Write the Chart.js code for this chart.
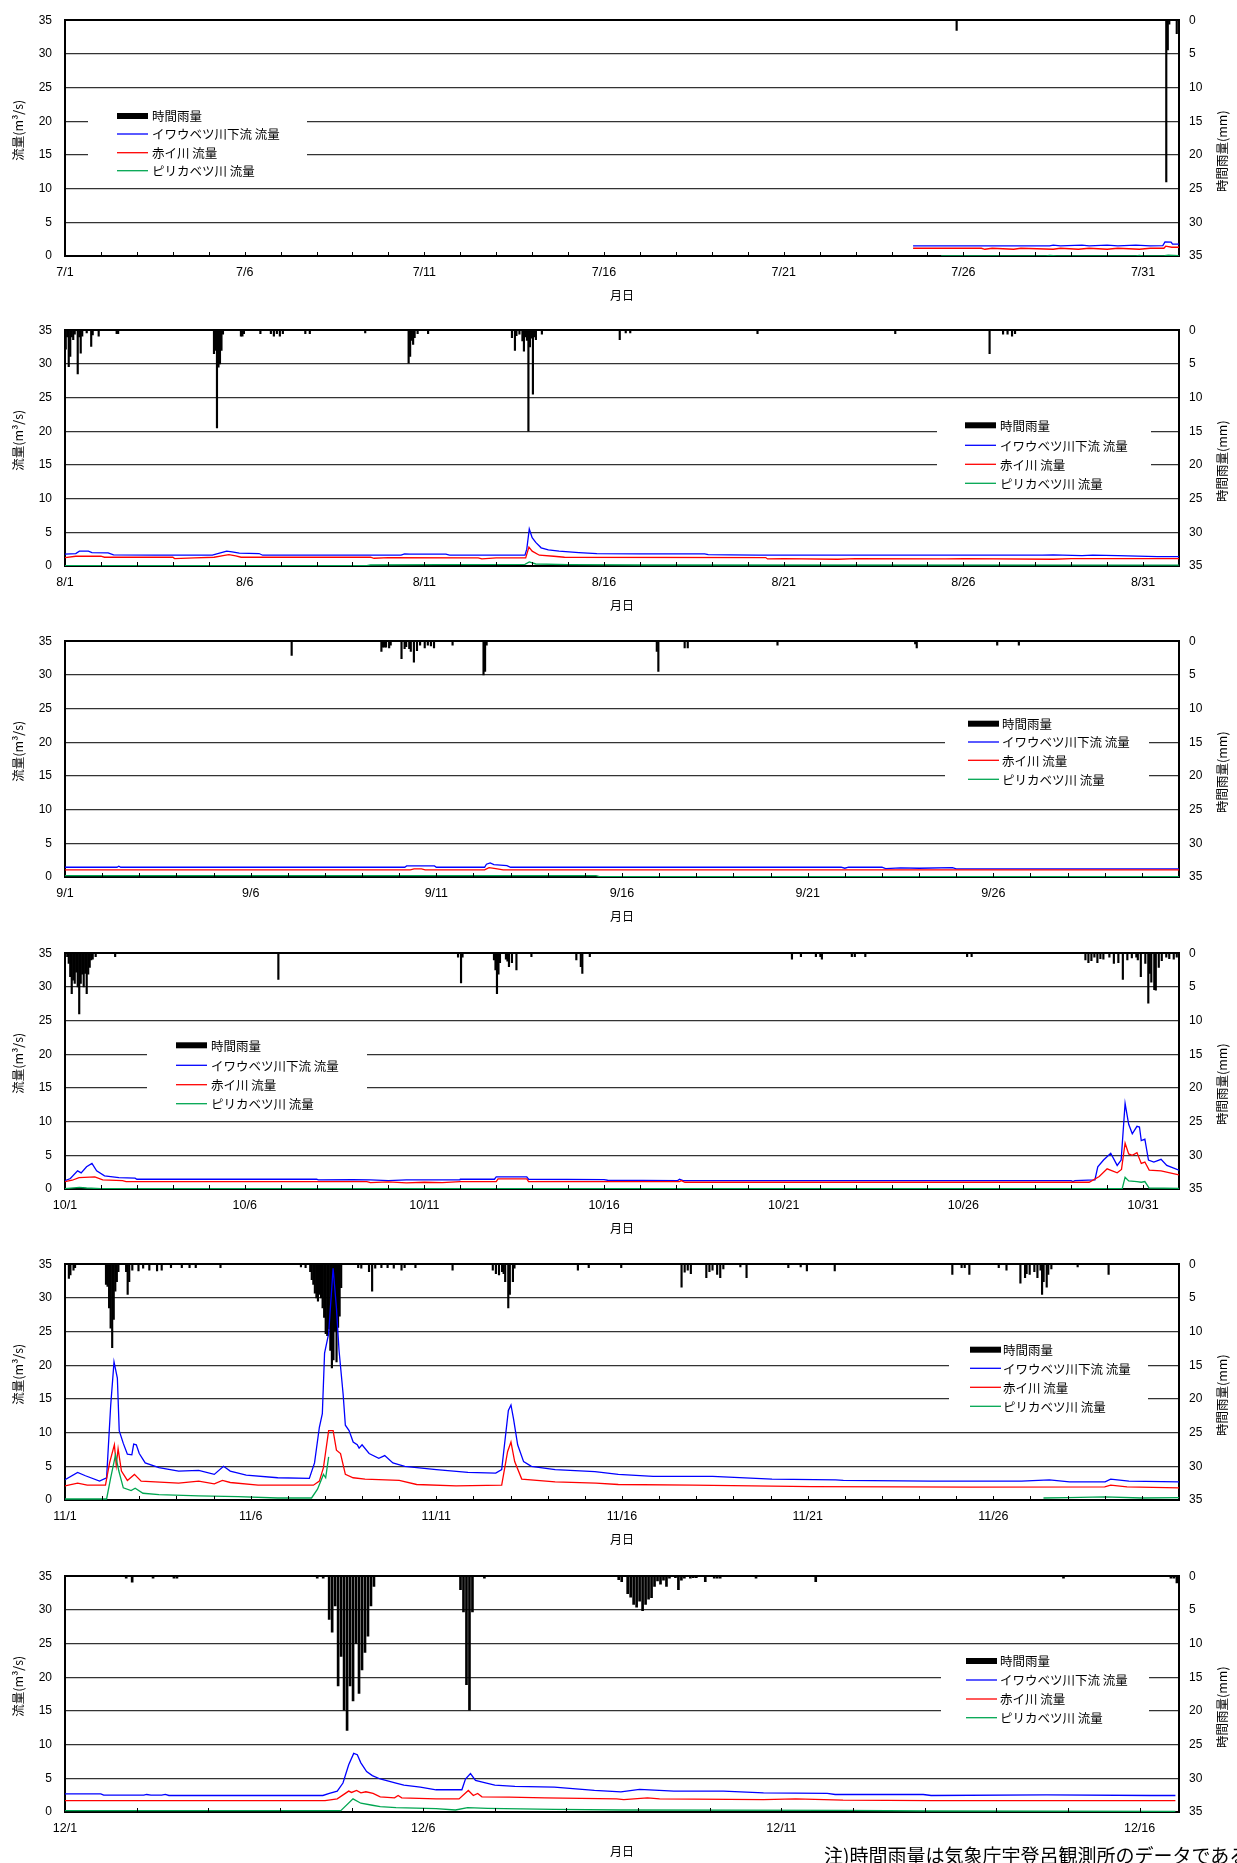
<!DOCTYPE html>
<html><head><meta charset="utf-8">
<script src="https://cdn.jsdelivr.net/npm/chart.js@4.4.1/dist/chart.umd.min.js"></script>
<style>
html,body{margin:0;padding:0;background:#fff;}
body{width:1237px;height:1863px;position:relative;overflow:hidden;}
.panel{position:absolute;left:0;width:1237px;height:311px;}
#note{position:absolute;left:824px;top:1843px;font-family:"Noto Sans CJK JP";font-size:19px;line-height:24px;white-space:nowrap;color:#000;}
</style></head><body>
<div class="panel" style="top:0px"><canvas id="c0" width="1237" height="311"></canvas></div>
<div class="panel" style="top:310px"><canvas id="c1" width="1237" height="311"></canvas></div>
<div class="panel" style="top:621px"><canvas id="c2" width="1237" height="311"></canvas></div>
<div class="panel" style="top:933px"><canvas id="c3" width="1237" height="311"></canvas></div>
<div class="panel" style="top:1244px"><canvas id="c4" width="1237" height="311"></canvas></div>
<div class="panel" style="top:1556px"><canvas id="c5" width="1237" height="311"></canvas></div>
<div id="note">注)時間雨量は気象庁宇登呂観測所のデータである</div>
<script>
// ---------- series names ----------
const seriesNames = ['時間雨量', 'イワウベツ川下流 流量', '赤イ川 流量', 'ピリカベツ川 流量'];

// ---------- tick labels (every 5 days) ----------
const julTicks = ['7/1','7/6','7/11','7/16','7/21','7/26','7/31'];
const augTicks = ['8/1','8/6','8/11','8/16','8/21','8/26','8/31'];
const sepTicks = ['9/1','9/6','9/11','9/16','9/21','9/26'];
const octTicks = ['10/1','10/6','10/11','10/16','10/21','10/26','10/31'];
const novTicks = ['11/1','11/6','11/11','11/16','11/21','11/26'];
const decTicks = ['12/1','12/6','12/11','12/16'];
const monthDays = [31, 31, 30, 31, 30, 15.55];

// ---------- hourly rainfall [hour from month start, mm] ----------
const julRain = [[595,1.5],[735,24.0],[736,4.4],[737,0.6],[742,2.0]];
const augRain = [[0,2.8],[1,1.0],[2,5.4],[3,3.9],[4,1.0],[5,1.4],[6,0.6],[8,6.5],[9,1.0],[10,3.4],[11,0.9],[14,0.4],[17,2.4],[18,0.7],[22,0.9],[34,0.5],[35,0.5],[99,3.5],[100,3.0],[101,14.5],[102,5.5],[103,5.0],[104,3.0],[105,0.6],[117,0.9],[118,0.9],[119,0.5],[130,0.5],[137,0.5],[139,0.9],[141,0.5],[143,0.9],[145,0.5],[160,0.5],[163,0.5],[200,0.4],[229,4.9],[230,3.9],[231,1.5],[232,2.1],[233,1.1],[235,0.5],[242,0.5],[298,1.1],[300,3.0],[301,0.8],[303,0.6],[305,1.6],[306,3.1],[307,1.0],[308,1.5],[309,15.0],[310,2.5],[311,1.2],[312,9.5],[313,1.0],[314,1.4],[318,0.6],[370,1.4],[374,0.4],[377,0.4],[462,0.5],[554,0.5],[617,3.5],[626,0.6],[629,0.6],[632,0.9],[634,0.5]];
const sepRain = [[146,2.1],[204,1.5],[205,0.9],[206,0.9],[207,0.9],[209,1.0],[210,0.6],[217,2.6],[219,1.1],[220,0.8],[222,1.1],[223,1.5],[225,3.1],[227,1.4],[229,0.6],[232,1.0],[234,0.6],[236,0.7],[238,1.0],[250,0.6],[270,5.0],[271,4.5],[272,0.6],[382,1.5],[383,4.5],[400,1.0],[402,1.0],[460,0.6],[549,0.4],[550,1.0],[602,0.6],[616,0.6]];
const octRain = [[1,0.5],[2,1.5],[3,3.5],[4,6.0],[5,4.0],[6,4.5],[7,2.8],[8,5.0],[9,9.0],[10,4.5],[11,3.1],[12,5.0],[13,3.0],[14,6.0],[15,3.1],[16,2.1],[17,1.0],[18,0.9],[20,0.5],[33,0.5],[142,3.9],[262,0.6],[264,4.4],[265,0.6],[286,1.0],[287,2.5],[288,6.0],[289,3.1],[290,1.4],[294,0.9],[295,1.2],[296,2.0],[298,1.4],[301,2.5],[311,0.5],[341,1.0],[344,2.0],[345,3.0],[350,0.5],[485,0.9],[491,0.5],[501,0.5],[504,0.5],[505,0.9],[525,0.5],[527,0.5],[534,0.5],[602,0.5],[605,0.5],[681,1.0],[683,1.4],[685,1.1],[687,0.6],[689,1.4],[691,0.8],[693,0.9],[697,0.6],[700,1.5],[703,1.4],[706,3.9],[709,1.0],[712,0.7],[715,0.6],[716,1.0],[718,3.5],[721,1.5],[723,7.4],[724,3.0],[725,4.3],[727,5.4],[728,5.5],[730,2.1],[732,1.1],[735,0.6],[737,0.8],[740,0.9],[742,0.6]];
const novRain = [[2,2.1],[3,1.6],[5,0.9],[6,0.5],[26,3.0],[27,3.3],[28,6.5],[29,9.5],[30,12.4],[31,8.2],[32,4.0],[33,2.6],[34,1.1],[39,1.1],[40,4.5],[41,2.6],[43,0.9],[47,1.0],[50,0.6],[54,0.9],[59,1.0],[62,0.9],[68,0.5],[75,0.5],[80,0.5],[84,0.5],[100,0.5],[152,0.4],[155,0.5],[158,1.1],[159,2.3],[160,3.0],[161,4.3],[162,5.0],[163,5.5],[164,4.5],[165,5.0],[166,6.5],[167,7.9],[168,10.3],[169,10.6],[170,9.6],[171,12.8],[172,15.4],[173,14.2],[174,9.9],[175,14.5],[176,9.4],[177,7.7],[178,3.5],[189,0.5],[191,0.6],[196,1.1],[198,4.0],[200,0.6],[204,0.5],[208,0.5],[212,0.6],[217,0.9],[219,0.5],[226,0.5],[250,0.9],[276,0.9],[278,1.4],[280,1.6],[282,1.1],[283,1.4],[284,2.6],[286,6.5],[287,4.5],[289,2.6],[290,0.6],[331,0.9],[338,0.5],[359,0.5],[398,3.4],[400,1.2],[402,0.9],[404,1.4],[414,2.0],[416,1.1],[418,0.9],[421,1.5],[423,2.0],[425,0.7],[436,0.4],[440,2.0],[467,0.5],[475,0.4],[479,1.0],[497,1.0],[573,1.5],[579,0.5],[581,0.5],[584,1.5],[603,0.5],[608,0.9],[617,2.8],[620,2.0],[621,1.4],[623,1.5],[626,1.1],[628,2.0],[630,0.9],[631,4.5],[632,2.6],[634,3.4],[635,1.5],[637,0.7],[654,0.4],[674,1.5]];
const decRain = [[20,0.3],[22,0.9],[29,0.3],[36,0.3],[37,0.3],[84,0.3],[86,0.3],[88,6.4],[89,8.3],[90,4.4],[91,16.3],[92,11.9],[93,19.9],[94,22.9],[95,16.3],[96,18.5],[97,10.0],[98,17.4],[99,13.9],[100,11.3],[101,8.9],[102,4.4],[103,1.5],[132,2.0],[133,5.3],[134,16.1],[135,19.9],[136,5.3],[140,0.3],[185,0.5],[186,0.8],[188,2.6],[189,3.1],[190,4.2],[191,4.6],[192,3.7],[193,5.1],[194,4.2],[195,3.4],[196,3.2],[197,1.5],[198,0.7],[199,1.2],[200,0.6],[201,1.5],[202,0.3],[204,0.2],[205,2.0],[206,0.6],[207,0.3],[209,0.3],[210,0.2],[211,0.2],[214,0.8],[217,0.3],[218,0.3],[219,0.3],[231,0.3],[251,0.8],[334,0.3],[370,0.3],[371,0.3],[372,1.0]];

// ---------- flows [day from month start, m3/s] ----------
const julIwa = [[23.6,1.5],[25.0,1.5],[26.0,1.5],[27.4,1.5],[27.5,1.6],[27.7,1.5],[28.3,1.6],[28.5,1.5],[29.0,1.6],[29.3,1.5],[29.8,1.6],[30.2,1.5],[30.55,1.55],[30.61,2.1],[30.78,2.05],[30.82,1.75],[31,1.75]];
const julAka = [[23.6,1.15],[25.5,1.15],[25.6,1.0],[25.8,1.15],[26.4,1.0],[26.6,1.15],[27.5,1.0],[27.7,1.15],[28.2,1.0],[28.5,1.15],[29.0,1.0],[29.3,1.15],[29.9,1.0],[30.2,1.15],[30.58,1.15],[30.63,1.45],[30.8,1.3],[31,1.3]];
const julPiri = [[24.38,0.03],[27.3,0.03],[27.4,0.1],[27.6,0.03],[29.8,0.03],[29.9,0.1],[30.0,0.03],[30.6,0.05],[30.7,0.12],[31,0.05]];

const augIwa = [[0,1.75],[0.3,1.85],[0.4,2.2],[0.65,2.2],[0.75,2.0],[1.2,1.95],[1.35,1.65],[2.5,1.6],[4.1,1.6],[4.3,1.9],[4.5,2.2],[4.65,2.1],[4.85,1.9],[5.4,1.85],[5.5,1.6],[9.35,1.6],[9.45,1.8],[9.6,1.75],[10.6,1.75],[10.7,1.6],[12.8,1.6],[12.85,2.5],[12.92,5.5],[13.0,4.2],[13.1,3.5],[13.25,2.7],[13.45,2.4],[13.75,2.2],[14.3,2.0],[14.8,1.85],[16,1.8],[17.8,1.8],[17.9,1.7],[18.5,1.65],[19.3,1.6],[27.2,1.6],[27.5,1.65],[28.3,1.55],[28.6,1.6],[29.3,1.55],[30.4,1.4],[31,1.4]];
const augAka = [[0,1.25],[0.3,1.45],[1.0,1.45],[1.1,1.3],[3.0,1.3],[3.05,1.1],[3.6,1.2],[4.15,1.3],[4.4,1.55],[4.56,1.7],[4.75,1.5],[4.9,1.3],[8.5,1.3],[8.6,1.15],[9.0,1.25],[11.5,1.2],[11.6,1.05],[12.0,1.2],[12.82,1.2],[12.91,2.8],[13.0,2.2],[13.2,1.6],[13.6,1.45],[13.9,1.3],[19.5,1.25],[19.55,1.05],[20.0,1.1],[21.5,1.0],[22.0,1.1],[24.5,1.05],[25.0,1.1],[27.5,1.0],[28.0,1.1],[31,1.1]];
const augPiri = [[0,0.05],[8.4,0.05],[8.5,0.15],[10.5,0.2],[12.8,0.25],[12.92,0.6],[13.1,0.3],[14.0,0.2],[16.0,0.15],[31,0.12]];

const sepIwa = [[0,1.45],[1.4,1.45],[1.45,1.6],[1.5,1.45],[9.15,1.45],[9.2,1.65],[9.95,1.65],[10.0,1.45],[11.3,1.45],[11.35,1.9],[11.45,2.1],[11.55,1.85],[11.9,1.7],[12.0,1.45],[20.9,1.45],[21.0,1.3],[21.1,1.45],[22.0,1.45],[22.1,1.25],[22.5,1.35],[23.0,1.3],[23.9,1.4],[24.0,1.2],[30,1.2]];
const sepAka = [[0,1.05],[9.3,1.05],[9.4,1.2],[9.6,1.2],[9.7,1.05],[11.3,1.05],[11.42,1.4],[11.6,1.25],[11.8,1.05],[30,1.05]];
const sepPiri = [[0,0.2],[14.3,0.2],[14.4,0.05],[30,0.05]];

const octIwa = [[0,1.25],[0.15,1.55],[0.35,2.7],[0.45,2.4],[0.6,3.3],[0.75,3.8],[0.88,2.7],[1.1,1.95],[1.5,1.7],[1.95,1.6],[2.0,1.45],[7.0,1.45],[7.05,1.35],[8.0,1.4],[8.5,1.35],[9.0,1.25],[9.5,1.35],[10.99,1.35],[11.0,1.45],[11.95,1.45],[12.0,1.8],[12.85,1.8],[12.9,1.45],[15.0,1.4],[15.1,1.3],[17.05,1.25],[17.1,1.45],[17.2,1.25],[28.0,1.25],[28.05,1.1],[28.1,1.25],[28.66,1.35],[28.74,3.3],[28.9,4.3],[29.1,5.3],[29.28,3.5],[29.39,4.3],[29.5,12.7],[29.6,9.6],[29.7,8.2],[29.83,9.3],[29.9,9.2],[29.95,7.2],[30.05,7.4],[30.15,4.3],[30.3,4.0],[30.5,4.4],[30.66,3.5],[31,2.8]];
const octAka = [[0,1.1],[0.2,1.3],[0.39,1.7],[0.83,1.8],[1.05,1.35],[1.6,1.25],[1.7,1.1],[8.4,1.1],[8.5,0.95],[9.0,1.05],[9.5,0.9],[10.0,1.0],[10.5,0.95],[11.0,1.1],[12.0,1.1],[12.05,1.5],[12.85,1.5],[12.9,1.1],[17.1,1.1],[17.15,1.25],[17.25,1.0],[28.5,1.0],[28.78,1.85],[29.0,3.0],[29.28,2.4],[29.4,2.9],[29.5,6.8],[29.6,5.2],[29.7,5.0],[29.83,5.4],[29.95,3.8],[30.05,4.0],[30.17,2.8],[30.5,2.7],[31,2.1]];
const octPiri = [[0,0.05],[0.4,0.25],[0.6,0.15],[1.0,0.05],[29.42,0.05],[29.5,1.75],[29.6,1.2],[29.83,1.1],[29.95,1.0],[30.05,1.1],[30.17,0.15],[31,0.1]];

const novIwa = [[0,3.0],[0.34,4.1],[0.55,3.6],[0.93,2.8],[1.12,3.3],[1.23,14],[1.32,20.5],[1.41,18.1],[1.46,10.3],[1.57,8.4],[1.68,6.8],[1.8,6.7],[1.85,8.3],[1.92,8.2],[2.0,6.9],[2.16,5.5],[2.53,4.8],[3.06,4.3],[3.6,4.4],[4.02,3.8],[4.27,5.0],[4.45,4.3],[4.88,3.7],[5.73,3.3],[6.58,3.2],[6.72,5.5],[6.85,10.8],[6.93,12.8],[6.99,21.8],[7.1,24.7],[7.22,34.4],[7.31,28.5],[7.38,22.2],[7.49,15.7],[7.55,11.1],[7.65,10.3],[7.76,8.6],[7.87,8.2],[7.92,7.7],[8.0,8.2],[8.19,6.9],[8.45,6.2],[8.61,6.6],[8.83,5.5],[9.15,5.0],[10.0,4.5],[10.85,4.1],[11.6,4.0],[11.76,4.5],[11.94,13.3],[12.01,14.1],[12.08,12.0],[12.19,8.2],[12.35,5.7],[12.56,5.0],[13.2,4.5],[14.27,4.2],[14.9,3.8],[15.84,3.5],[17.44,3.5],[19.04,3.1],[20.75,3.0],[20.96,2.9],[23.31,2.8],[25.76,2.8],[26.51,3.0],[27.05,2.7],[28.01,2.7],[28.16,3.1],[28.65,2.8],[30,2.7]];
const novAka = [[0,2.1],[0.34,2.5],[0.6,2.2],[1.09,2.2],[1.2,5.5],[1.33,8.2],[1.38,5.2],[1.43,7.6],[1.52,4.3],[1.68,2.9],[1.87,3.8],[2.05,2.8],[3.06,2.5],[3.6,2.8],[4.02,2.4],[4.24,2.9],[4.45,2.6],[5.2,2.2],[6.69,2.2],[6.85,2.8],[6.96,4.8],[7.1,10.3],[7.22,10.3],[7.31,7.4],[7.42,6.9],[7.55,3.8],[7.76,3.3],[8.08,3.1],[9.0,2.9],[9.47,2.3],[10.53,2.1],[11.76,2.2],[11.92,7.2],[12.01,8.6],[12.11,5.7],[12.3,3.1],[13.2,2.7],[14.3,2.5],[14.9,2.3],[16.9,2.2],[20.1,2.0],[22.45,1.95],[24.38,1.9],[28.0,1.95],[28.16,2.2],[28.6,1.95],[30,1.8]];
const novPiri = [[0,0.15],[1.12,0.15],[1.23,3.3],[1.36,6.7],[1.45,4.3],[1.57,1.8],[1.78,1.4],[1.89,1.75],[2.1,1.0],[2.53,0.8],[3.6,0.6],[4.66,0.5],[5.73,0.3],[6.64,0.3],[6.8,1.6],[6.96,3.8],[7.02,3.3],[7.1,6.4],[7.15,null],[26.35,0.3],[27.0,0.35],[28.0,0.45],[29.0,0.3],[30,0.35]];

const decIwa = [[0,2.7],[0.5,2.7],[0.54,2.5],[1.1,2.5],[1.14,2.6],[1.2,2.5],[1.35,2.5],[1.4,2.6],[1.45,2.45],[3.6,2.45],[3.69,2.75],[3.8,3.1],[3.88,4.3],[3.96,7.0],[4.03,8.7],[4.08,8.5],[4.13,7.3],[4.21,6.0],[4.29,5.4],[4.4,4.9],[4.62,4.3],[4.73,4.0],[4.96,3.7],[5.18,3.3],[5.54,3.3],[5.59,4.9],[5.66,5.7],[5.73,4.7],[5.84,4.4],[6.0,4.0],[6.28,3.8],[6.83,3.7],[7.39,3.2],[7.76,3.0],[8.02,3.35],[8.5,3.1],[9.19,3.1],[9.75,2.85],[10.64,2.75],[10.75,2.6],[11.98,2.6],[12.09,2.45],[13.7,2.55],[15.16,2.45],[15.5,2.45]];
const decAka = [[0,1.7],[3.63,1.7],[3.8,1.95],[3.96,3.1],[4.0,2.9],[4.07,3.2],[4.13,2.85],[4.2,3.0],[4.3,2.75],[4.4,2.25],[4.6,2.1],[4.65,2.45],[4.7,2.1],[5.18,1.95],[5.5,1.95],[5.63,3.2],[5.7,2.45],[5.76,2.75],[5.82,2.25],[6.2,2.2],[6.7,2.1],[7.7,1.95],[7.8,1.85],[8.13,2.1],[8.3,1.95],[9.75,1.85],[10.2,1.95],[10.86,1.75],[12.09,1.7],[15.5,1.7]];
const decPiri = [[0,0.2],[3.85,0.2],[4.02,1.95],[4.13,1.3],[4.29,1.0],[4.4,0.8],[4.62,0.65],[5.18,0.5],[5.45,0.3],[5.62,0.65],[5.9,0.55],[6.83,0.4],[7.76,0.3],[10.86,0.25],[12.09,0.15],[15.5,0.1]];

// ---------- panel assembly ----------
const panels = [
  {ticks: julTicks, rain: julRain, iwa: julIwa, aka: julAka, piri: julPiri},
  {ticks: augTicks, rain: augRain, iwa: augIwa, aka: augAka, piri: augPiri},
  {ticks: sepTicks, rain: sepRain, iwa: sepIwa, aka: sepAka, piri: sepPiri},
  {ticks: octTicks, rain: octRain, iwa: octIwa, aka: octAka, piri: octPiri},
  {ticks: novTicks, rain: novRain, iwa: novIwa, aka: novAka, piri: novPiri},
  {ticks: decTicks, rain: decRain, iwa: decIwa, aka: decAka, piri: decPiri}
];

// layout/style per panel (canvas pixels)
const panelStyle = [
  {bar:1.5, legend:{boxL:88,  boxR:307,  sx:117, tx:152,  rows:[116,134,152.7,170.7]}},
  {bar:1.5, legend:{boxL:937, boxR:1151, sx:965, tx:1000, rows:[115.3,135.3,154.3,173.3]}},
  {bar:1.5, legend:{boxL:945, boxR:1149, sx:968, tx:1002, rows:[102.7,121,139.3,158.3]}},
  {bar:1.5, legend:{boxL:147, boxR:367,  sx:176, tx:211,  rows:[112.3,132.3,151.7,170.7]}},
  {bar:1.5, legend:{boxL:949, boxR:1148, sx:970, tx:1003, rows:[105.7,124.3,143.3,162.3]}},
  {bar:2.0, legend:{boxL:941, boxR:1149, sx:966, tx:1000, rows:[105,124,143,161.7]}}
];

const CJK = '"Noto Sans CJK JP", sans-serif';
Chart.defaults.font.family = '"Liberation Sans", "Noto Sans CJK JP", sans-serif';
Chart.defaults.color = '#000';

const decoPlugin = {
  id: 'deco',
  afterDraw(chart, args, opts) {
    const ctx = chart.ctx, area = chart.chartArea, xs = chart.scales.x;
    ctx.save();
    // small daily tick marks inside the bottom axis
    ctx.strokeStyle = '#000'; ctx.lineWidth = 1;
    for (let d = 1; d < xs.max; d++) {
      const px = Math.round(xs.getPixelForValue(d)) + 0.5;
      ctx.beginPath(); ctx.moveTo(px, area.bottom); ctx.lineTo(px, area.bottom - 4); ctx.stroke();
    }
    // axis titles (both read bottom-to-top)
    ctx.fillStyle = '#000';
    ctx.font = '12.5px ' + CJK;
    ctx.textAlign = 'center'; ctx.textBaseline = 'middle';
    ctx.save(); ctx.translate(18, area.top + 110); ctx.rotate(-Math.PI / 2); ctx.fillText('流量(m³/s)', 0, 0); ctx.restore();
    ctx.save(); ctx.translate(1222, area.top + 131); ctx.rotate(-Math.PI / 2); ctx.fillText('時間雨量(mm)', 0, 0); ctx.restore();
    // legend
    const L = opts.legend;
    ctx.fillStyle = '#fff';
    ctx.fillRect(L.boxL, L.rows[0] - 12, L.boxR - L.boxL, L.rows[3] - L.rows[0] + 23);
    ctx.textAlign = 'left';
    chart.data.datasets.forEach((ds, i) => {
      const y = L.rows[i];
      if (ds.type === 'bar') {
        ctx.fillStyle = '#000';
        ctx.fillRect(L.sx, y - 3, 31, 6);
      } else {
        ctx.strokeStyle = ds.borderColor; ctx.lineWidth = 1.3;
        ctx.beginPath(); ctx.moveTo(L.sx, y); ctx.lineTo(L.sx + 31, y); ctx.stroke();
      }
      ctx.fillStyle = '#000';
      ctx.font = '12.5px ' + CJK;
      ctx.fillText(ds.label, L.tx, y + 0.5);
    });
    ctx.restore();
  }
};
Chart.register(decoPlugin);

const toXY = arr => arr.map(([d, v]) => ({x: d, y: v}));

panels.forEach((p, i) => {
  const st = panelStyle[i];
  const nDays = monthDays[i];
  new Chart(document.getElementById('c' + i), {
    type: 'line',
    data: {
      datasets: [
        {type: 'bar', label: seriesNames[0], data: p.rain.map(([h, v]) => ({x: (h + 0.5) / 24, y: v})),
         yAxisID: 'y2', backgroundColor: '#000', borderWidth: 0, barThickness: st.bar, order: 4},
        {type: 'line', label: seriesNames[1], data: toXY(p.iwa), yAxisID: 'y', borderColor: '#0000FF',
         borderWidth: 1.3, pointRadius: 0, tension: 0, spanGaps: false, order: 3},
        {type: 'line', label: seriesNames[2], data: toXY(p.aka), yAxisID: 'y', borderColor: '#FF0000',
         borderWidth: 1.3, pointRadius: 0, tension: 0, spanGaps: false, order: 2},
        {type: 'line', label: seriesNames[3], data: toXY(p.piri), yAxisID: 'y', borderColor: '#00A651',
         borderWidth: 1.3, pointRadius: 0, tension: 0, spanGaps: false, order: 1}
      ]
    },
    options: {
      responsive: false, animation: false, devicePixelRatio: 1,
      layout: {padding: {top: 17, left: 0, right: 0, bottom: 0}},
      plugins: {legend: {display: false}, tooltip: {enabled: false}, deco: {legend: st.legend}},
      scales: {
        x: {
          type: 'linear', min: 0, max: nDays, offset: false,
          afterBuildTicks: s => { s.ticks = p.ticks.map((_, k) => ({value: k * 5})); },
          ticks: {callback: (v, k) => p.ticks[k], autoSkip: false, maxRotation: 0, font: {size: 12.5}, color: '#000', padding: 9},
          grid: {display: false, drawTicks: false},
          border: {display: true, color: '#000', width: 2},
          title: {display: true, text: '月日', font: {size: 12, family: CJK}, color: '#000', padding: {top: 0, bottom: 8}},
          afterFit: s => { s.height = 55; }
        },
        y: {
          position: 'left', min: 0, max: 35,
          ticks: {stepSize: 5, font: {size: 12}, color: '#000', padding: 13},
          grid: {color: c => (c.tick && c.tick.value === 35) ? '#000' : '#333',
                 lineWidth: c => (c.tick && c.tick.value === 35) ? 2 : 1.3, drawTicks: false},
          border: {color: '#000', width: 2},
          afterFit: s => { s.width = 65; }
        },
        y2: {
          position: 'right', min: 0, max: 35, reverse: true,
          ticks: {stepSize: 5, font: {size: 12}, color: '#000', padding: 10},
          grid: {display: false, drawTicks: false},
          border: {color: '#000', width: 2},
          afterFit: s => { s.width = 58; }
        }
      }
    }
  });
});
</script>
</body></html>
